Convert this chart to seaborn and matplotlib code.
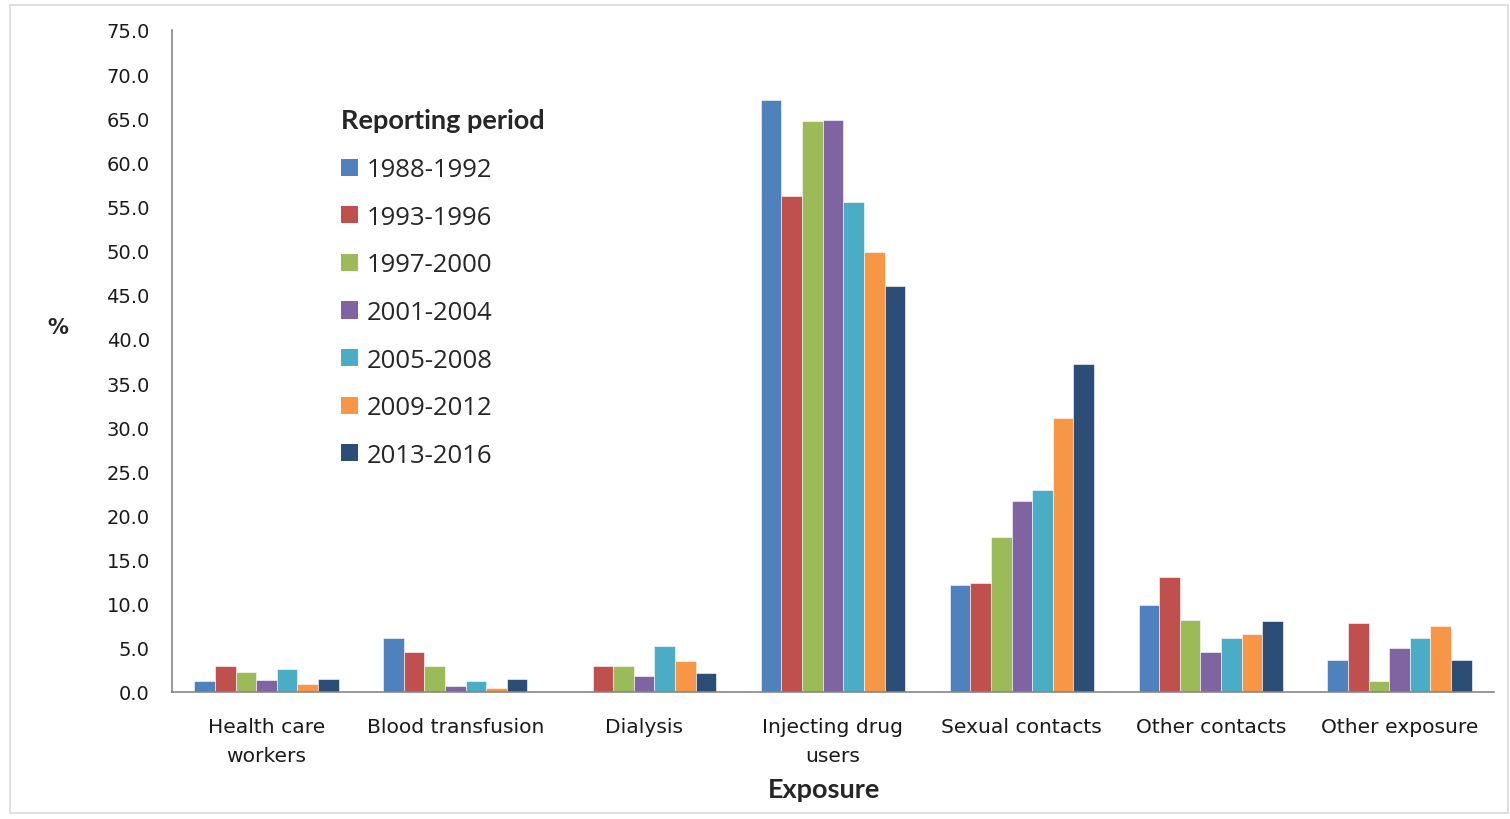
import matplotlib
matplotlib.use("Agg")
import matplotlib.pyplot as plt
import seaborn as sns
import pandas as pd
from matplotlib.patches import Rectangle, Patch

categories = ["Health care\nworkers", "Blood transfusion", "Dialysis",
              "Injecting drug\nusers", "Sexual contacts", "Other contacts", "Other exposure"]
periods = ["1988-1992", "1993-1996", "1997-2000", "2001-2004",
           "2005-2008", "2009-2012", "2013-2016"]
colors = ["#4F81BD", "#C0504D", "#9BBB59", "#8064A2", "#4BACC6", "#F79646", "#2C4D75"]

v_1988_1992 = [1.2, 6.1, 0.0, 67.1, 12.1, 9.8, 3.6]
v_1993_1996 = [2.9, 4.5, 2.9, 56.2, 12.3, 13.0, 7.8]
v_1997_2000 = [2.3, 2.9, 2.9, 64.7, 17.6, 8.2, 1.3]
v_2001_2004 = [1.4, 0.7, 1.8, 64.8, 21.6, 4.5, 5.0]
v_2005_2008 = [2.6, 1.3, 5.2, 55.5, 22.9, 6.1, 6.1]
v_2009_2012 = [0.9, 0.4, 3.5, 49.8, 31.0, 6.6, 7.5]
v_2013_2016 = [1.5, 1.5, 2.2, 46.0, 37.2, 8.0, 3.6]

series = [v_1988_1992, v_1993_1996, v_1997_2000, v_2001_2004,
          v_2005_2008, v_2009_2012, v_2013_2016]

rows = []
for p, vals in zip(periods, series):
    for c, v in zip(categories, vals):
        rows.append({"Exposure": c, "Period": p, "Value": v})
df = pd.DataFrame(rows)

sns.set_style("white")
plt.rcParams['font.family'] = ['DejaVu Sans']

W, H = 1510, 820
fig = plt.figure(figsize=(W / 100, H / 100), dpi=100)
ax = fig.add_axes([172 / W, (H - 693) / H, (1494 - 172) / W, (693 - 31) / H])

sns.barplot(data=df, x="Exposure", y="Value", hue="Period", order=categories,
            hue_order=periods, palette=colors, width=0.764, gap=0,
            edgecolor="white", linewidth=0.4, saturation=1, ax=ax, legend=False)

ax.set_ylim(0, 75)
ax.set_xlim(-0.5, len(categories) - 0.5)
ax.set_yticks([i * 5 for i in range(16)])
ax.set_yticklabels([f"{i * 5:.1f}" for i in range(16)], fontsize=14, color="#1a1a1a")
ax.set_xticks(range(len(categories)))
ax.set_xticklabels(categories, fontsize=14.6, color="#1a1a1a", linespacing=1.65)
ax.set_xticks([i - 0.5 for i in range(len(categories) + 1)], minor=True)
ax.tick_params(axis="x", which="major", length=0, pad=18)
ax.tick_params(axis="x", which="minor", length=7, width=1, color="#555555", direction="out")
ax.tick_params(axis="y", which="major", length=6, width=1, color="#555555", direction="out", pad=10)
ax.set_xlabel("")
ax.set_ylabel("")
for s in ["top", "right"]:
    ax.spines[s].set_visible(False)
for s in ["left", "bottom"]:
    ax.spines[s].set_color("#868686")
    ax.spines[s].set_linewidth(1.2)

fig.text(58 / W, 1 - 328 / H, "%", fontsize=15, fontweight="bold", ha="center", va="center")
fig.text(824 / W, 1 - 790 / H, "Exposure", fontsize=19.5, fontweight="bold",
         family="Lato", ha="center", va="center")

handles = [Patch(facecolor=c, edgecolor="none") for c in colors]
leg = fig.legend(handles, periods, loc="upper left", bbox_to_anchor=(318 / W, 1 - 86 / H),
                 frameon=False, prop={"family": "Open Sans", "size": 18.5},
                 title="Reporting period", title_fontproperties={"family": "Lato", "weight": "bold", "size": 19.5},
                 handlelength=0.65, handleheight=0.65, handletextpad=0.35, labelspacing=0.88)
leg._legend_box.align = "left"
leg._legend_box.sep = 18

fig.patches.append(Rectangle((10 / W, 6 / H), (W - 12) / W, (H - 12) / H, transform=fig.transFigure,
                             fill=False, edgecolor="#d9d9d9", linewidth=1.2))

fig.savefig("out.png", dpi=100)
